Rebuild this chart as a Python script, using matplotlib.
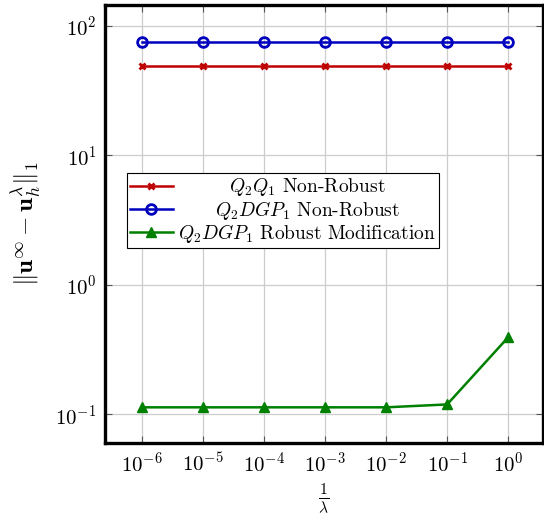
import numpy as np
import matplotlib
matplotlib.use('Agg')
import matplotlib.pyplot as plt

plt.rcParams['font.family'] = 'serif'
plt.rcParams['font.serif'] = ['cmr10']
plt.rcParams['mathtext.fontset'] = 'cm'
plt.rcParams['axes.formatter.use_mathtext'] = True

inv_lambda = [1e-6, 1e-5, 1e-4, 1e-3, 1e-2, 1e-1, 1e0]
q2q1_nonrobust = [49, 49, 49, 49, 49, 49, 49]
q2dgp1_nonrobust = [75, 75, 75, 75, 75, 75, 75]
q2dgp1_robust = [0.113, 0.113, 0.113, 0.113, 0.113, 0.119, 0.393]

labels = [r'$Q_2Q_1$ Non-Robust',
          r'$Q_2DGP_1$ Non-Robust',
          r'$Q_2DGP_1$ Robust Modification']

fig = plt.figure(figsize=(5.44, 5.22), dpi=100)
ax = fig.add_axes([0.193, 0.151, 0.805, 0.839])

ax.plot(inv_lambda, q2q1_nonrobust, color='#bf0000', marker='x', ms=5, mew=2, lw=1.8, label=labels[0])
ax.plot(inv_lambda, q2dgp1_nonrobust, color='#0000bf', marker='o', ms=7, mfc='none', mew=2, lw=1.8, label=labels[1])
ax.plot(inv_lambda, q2dgp1_robust, color='#008000', marker='^', ms=7, lw=1.8, label=labels[2])

ax.set_xscale('log')
ax.set_yscale('log')
ax.set_xlim(10**-6.61, 10**0.57)
ax.set_ylim(0.0597, 145)
ax.set_xticks(inv_lambda)
ax.set_yticks([0.1, 1, 10, 100])
ax.minorticks_off()
ax.tick_params(direction='in', top=True, right=True, length=5, width=0.8, color='#555555', labelsize=15, pad=6)
ax.grid(True, color='#cccccc', lw=0.9)
for s in ax.spines.values():
    s.set_linewidth(2.4)

ax.set_xlabel(r'$\frac{1}{\lambda}$', fontsize=16)
ax.set_ylabel(r'$\|\mathbf{u}^\infty - \mathbf{u}_h^\lambda\|_1$', fontsize=18, labelpad=9)

leg = ax.legend(loc='upper left', bbox_to_anchor=(0.05, 0.616), fontsize=14, fancybox=False,
                edgecolor='black', framealpha=1, borderpad=0.15, labelspacing=0.02,
                handlelength=2.2, handletextpad=0.3, borderaxespad=0)
leg.get_frame().set_linewidth(0.8)

# center legend texts like pgfplots
fig.canvas.draw()
r = fig.canvas.get_renderer()
texts = leg.get_texts()
widths = [t.get_window_extent(r).width for t in texts]
wmax = max(widths)
for t, w in zip(texts, widths):
    t.set_x((wmax - w) / 2)

fig.savefig('out.png', dpi=100)
